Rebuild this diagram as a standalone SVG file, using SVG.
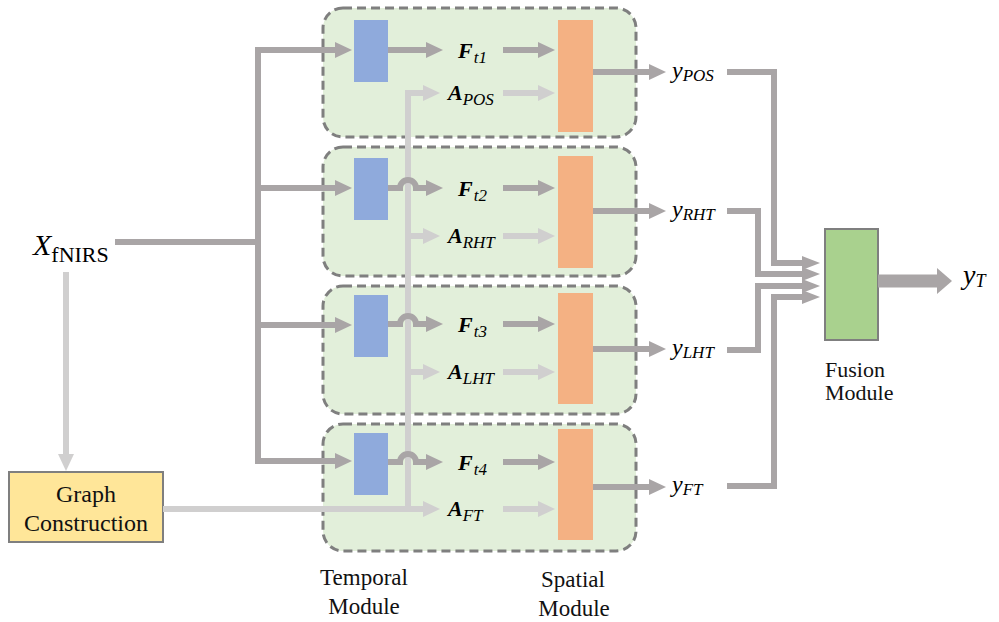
<svg xmlns="http://www.w3.org/2000/svg" width="999" height="622" viewBox="0 0 999 622">
<style>
.panel{fill:#e2efda;stroke:#7f7f7f;stroke-width:3;stroke-dasharray:9 5}
.blue{fill:#8faadc}
.orange{fill:#f4b183}
.dk{fill:none;stroke:#a9a5a6;stroke-width:6}
.lt{fill:none;stroke:#d0cfcf;stroke-width:6}
.dkm{marker-end:url(#hd)}
.ltm{marker-end:url(#hl)}
.math{font-style:italic;fill:#000}
.bi{font-weight:bold;font-size:22px}
.sub{font-size:17px;font-weight:normal}
.lbl{font-size:23px;fill:#111}
</style>
<defs>
<marker id="hd" markerUnits="userSpaceOnUse" markerWidth="17" markerHeight="16" viewBox="0 0 17 16" refX="0" refY="8" orient="auto"><path d="M0,0 L17,8 L0,16 z" fill="#a9a5a6"/></marker>
<marker id="hl" markerUnits="userSpaceOnUse" markerWidth="17" markerHeight="16" viewBox="0 0 17 16" refX="0" refY="8" orient="auto"><path d="M0,0 L17,8 L0,16 z" fill="#d0cfcf"/></marker>
<marker id="hf" markerUnits="userSpaceOnUse" markerWidth="18" markerHeight="14" viewBox="0 0 18 14" refX="0" refY="7" orient="auto"><path d="M0,0 L18,7 L0,14 z" fill="#a9a5a6"/></marker>
<marker id="hb" markerUnits="userSpaceOnUse" markerWidth="15" markerHeight="26" viewBox="0 0 15 26" refX="0" refY="13" orient="auto"><path d="M0,0 L15,13 L0,26 z" fill="#a9a5a6"/></marker>
</defs>

<g id="panel1"><rect class="panel" x="323" y="8" width="313" height="129" rx="20"/><rect class="blue" x="354" y="20" width="34" height="62"/><rect class="orange" x="558" y="20" width="35" height="112"/></g>
<g id="panel2"><rect class="panel" x="323" y="147" width="313" height="129" rx="20"/><rect class="blue" x="354" y="158" width="34" height="62"/><rect class="orange" x="558" y="156" width="35" height="112"/></g>
<g id="panel3"><rect class="panel" x="323" y="286" width="313" height="128" rx="20"/><rect class="blue" x="354" y="295" width="34" height="62"/><rect class="orange" x="558" y="293" width="35" height="111"/></g>
<g id="panel4"><rect class="panel" x="323" y="424" width="313" height="127" rx="20"/><rect class="blue" x="354" y="433" width="34" height="62"/><rect class="orange" x="558" y="429" width="35" height="111"/></g>

<g id="graph-construction" font-family="Liberation Serif, Times New Roman, serif"><rect x="9" y="472" width="154" height="70" fill="#ffe699" stroke="#7f7f7f" stroke-width="2"/><text class="lbl" font-size="24" style="font-size:24px" x="86" y="502" text-anchor="middle">Graph</text><text class="lbl" style="font-size:24px" x="86" y="531" text-anchor="middle">Construction</text></g>
<g id="fusion" font-family="Liberation Serif, Times New Roman, serif"><rect x="825" y="229" width="53" height="111" fill="#a9d18e" stroke="#7f7f7f" stroke-width="2"/><text class="lbl" style="font-size:22px" x="825" y="377">Fusion</text><text class="lbl" style="font-size:22px" x="825" y="400">Module</text></g>

<g id="connectors">
<path class="lt ltm" d="M66,272 V454"/>
<path class="lt" d="M408,509 V93"/>
<path class="lt ltm" d="M163,509 H423"/>
<path class="lt ltm" d="M405,93 H423"/>
<path class="lt ltm" d="M408,236 H423"/>
<path class="lt ltm" d="M408,372 H423"/>
<path class="lt ltm" d="M503,93 H538"/>
<path class="lt ltm" d="M503,236 H538"/>
<path class="lt ltm" d="M503,372 H538"/>
<path class="lt ltm" d="M503,509 H538"/>

<path class="dk" d="M115,242 H258"/>
<path class="dk" d="M258,47 V464"/>
<path class="dk dkm" d="M255,50 H335"/>
<path class="dk dkm" d="M258,188 H335"/>
<path class="dk dkm" d="M258,325 H335"/>
<path class="dk dkm" d="M255,461 H335"/>

<path class="dk dkm" d="M388,50 H426"/>
<path class="dk dkm" d="M388,188 H400 A8,8 0 0 1 416,188 H426"/>
<path class="dk dkm" d="M388,324 H400 A8,8 0 0 1 416,324 H426"/>
<path class="dk dkm" d="M388,462 H400 A8,8 0 0 1 416,462 H426"/>

<path class="dk dkm" d="M503,50 H538"/>
<path class="dk dkm" d="M503,188 H538"/>
<path class="dk dkm" d="M503,324 H538"/>
<path class="dk dkm" d="M503,462 H538"/>

<path class="dk dkm" d="M593,72 H649"/>
<path class="dk dkm" d="M593,211 H649"/>
<path class="dk dkm" d="M593,349 H649"/>
<path class="dk dkm" d="M593,487 H649"/>

<path class="dk" style="marker-end:url(#hf)" d="M727,72 H774 V263 H802"/>
<path class="dk" style="marker-end:url(#hf)" d="M727,211 H758 V274 H802"/>
<path class="dk" style="marker-end:url(#hf)" d="M727,350 H758 V286 H802"/>
<path class="dk" style="marker-end:url(#hf)" d="M727,486 H774 V297 H802"/>

<path class="dk" style="stroke-width:13;marker-end:url(#hb)" d="M878,281 H937"/>
</g>

<g id="labels" font-family="Liberation Serif, Times New Roman, serif">
<text class="math" x="33" y="255" font-size="30">X<tspan dy="7" style="font-style:normal;font-size:22px">fNIRS</tspan></text>

<text class="math" x="458" y="58"><tspan class="bi">F</tspan><tspan class="sub" dx="1" dy="5">t1</tspan></text>
<text class="math" x="458" y="196"><tspan class="bi">F</tspan><tspan class="sub" dx="1" dy="5">t2</tspan></text>
<text class="math" x="458" y="332"><tspan class="bi">F</tspan><tspan class="sub" dx="1" dy="5">t3</tspan></text>
<text class="math" x="458" y="470"><tspan class="bi">F</tspan><tspan class="sub" dx="1" dy="5">t4</tspan></text>

<text class="math" x="448" y="100"><tspan class="bi">A</tspan><tspan class="sub" dy="5">POS</tspan></text>
<text class="math" x="448" y="243"><tspan class="bi">A</tspan><tspan class="sub" dy="5">RHT</tspan></text>
<text class="math" x="448" y="379"><tspan class="bi">A</tspan><tspan class="sub" dy="5">LHT</tspan></text>
<text class="math" x="448" y="516"><tspan class="bi">A</tspan><tspan class="sub" dy="5">FT</tspan></text>

<text class="math" x="672" y="78" font-size="24">y<tspan class="sub" dy="3">POS</tspan></text>
<text class="math" x="672" y="217" font-size="24">y<tspan class="sub" dy="3">RHT</tspan></text>
<text class="math" x="672" y="355" font-size="24">y<tspan class="sub" dy="3">LHT</tspan></text>
<text class="math" x="672" y="492" font-size="24">y<tspan class="sub" dy="3">FT</tspan></text>

<text class="math" x="963" y="284" font-size="28">y<tspan dy="3" style="font-size:18px">T</tspan></text>

<text class="lbl" x="364" y="585" text-anchor="middle">Temporal</text>
<text class="lbl" x="364" y="614" text-anchor="middle">Module</text>
<text class="lbl" x="573" y="587" text-anchor="middle">Spatial</text>
<text class="lbl" x="574" y="616" text-anchor="middle">Module</text>
</g>
</svg>
